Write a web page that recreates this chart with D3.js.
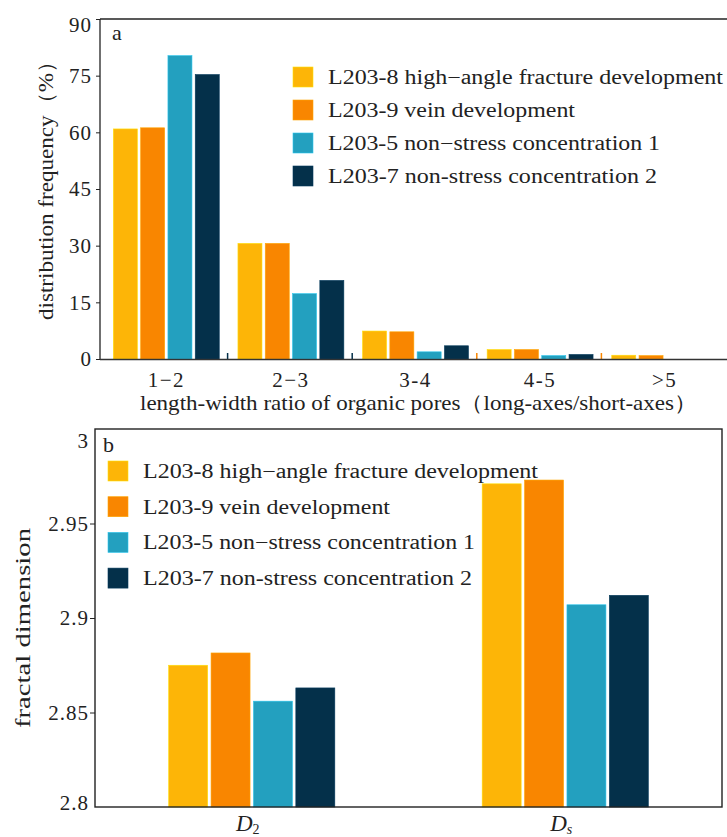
<!DOCTYPE html>
<html><head><meta charset="utf-8">
<script src="https://cdn.jsdelivr.net/npm/d3@7"></script>
<style>body{margin:0;background:#fff}svg{display:block}text{font-family:"Liberation Serif","Times New Roman",serif !important;fill:#222}</style>
</head><body><svg id="c" width="727" height="837"></svg>
<script>
const series = ["L203-8 high\u2212angle fracture development","L203-9 vein development","L203-5 non\u2212stress concentration 1","L203-7 non-stress concentration 2"];
const colors = ["#FDB507","#F98600","#23A0BF","#04304A"];
const catsA = ["1\u22122","2\u22123","3-4","4-5",">5"];
const valsA = [
  [60.9, 30.6, 7.4, 2.5, 1.0],
  [61.2, 30.6, 7.2, 2.5, 0.9],
  [80.3, 17.3, 1.9, 0.9, 0],
  [75.3, 20.8, 3.5, 1.2, 0]
];
const ticksA = [0,15,30,45,60,75,90];
const catsB = ["D2","Ds"];
const valsB = [
  [2.875, 2.971],
  [2.8815, 2.973],
  [2.856, 2.907],
  [2.863, 2.912]
];
const ticksB = [2.8,2.85,2.9,2.95,3];

const svg = d3.select("#c");
const fs = 20;
const legW = [395,247,332,329];

// ---------- Panel a ----------
const ya = d3.scaleLinear().domain([0,90]).range([359,19]);
const xa = d3.scaleBand().domain(catsA).range([104,727]).paddingInner(0.15).paddingOuter(0.075);
const sa = d3.scaleBand().domain(d3.range(4)).range([0,xa.bandwidth()]).paddingInner(0.12);
const ga = svg.append("g");
series.forEach((s,i)=>{
  ga.selectAll(null).data(catsA).join("rect")
    .attr("x",d=>xa(d)+sa(i)).attr("width",sa.bandwidth())
    .attr("y",(d,j)=>ya(valsA[i][j])).attr("height",(d,j)=>ya(0)-ya(valsA[i][j]))
    .attr("fill",colors[i]).attr("stroke",d3.color(colors[i]).brighter(0.6)).attr("stroke-width",0.6)
    .attr("opacity",(d,j)=>valsA[i][j]>0?1:0);
});
const markColors = [colors[3],colors[3],colors[1],colors[1]];
catsA.slice(1).forEach((c,k)=>{
  const xm = xa(c) - xa.step()*xa.paddingInner()/2 - 1;
  ga.append("line").attr("x1",xm).attr("x2",xm).attr("y1",ya(0)).attr("y2",ya(0)-6)
    .attr("stroke",markColors[k]).attr("stroke-width",1.5);
});
ga.append("line").attr("x1",100).attr("x2",100).attr("y1",19).attr("y2",359.5).attr("stroke","#222").attr("stroke-width",1.3);
ga.append("line").attr("x1",100).attr("x2",727).attr("y1",19).attr("y2",19).attr("stroke","#222").attr("stroke-width",1.3);
ga.append("line").attr("x1",100).attr("x2",727).attr("y1",359.5).attr("y2",359.5).attr("stroke","#333").attr("stroke-width",1.6);
const yAxA = ga.append("g").attr("transform","translate(100,0)")
  .call(d3.axisLeft(ya).tickValues(ticksA).tickSize(4).tickSizeOuter(0));
yAxA.attr("font-family",null).attr("font-size",null);
yAxA.select(".domain").remove();
yAxA.selectAll("line").attr("stroke","#222");
yAxA.selectAll("text").style("font-size","21px").style("letter-spacing","1px").attr("x",-8).attr("fill","#222");
yAxA.selectAll(".tick").filter(d=>d===90).select("text").attr("dy","0.6em");
const xAxA = ga.append("g").attr("transform","translate(0,359)")
  .call(d3.axisBottom(xa).tickSize(0));
xAxA.attr("font-family",null).attr("font-size",null);
xAxA.select(".domain").remove();
xAxA.selectAll("text").style("font-size","21px").style("letter-spacing","1.5px").attr("y",13).attr("fill","#222");
ga.append("text").attr("x",112).attr("y",40).style("font-size","22px").text("a");
ga.append("text").attr("transform","translate(53,185) rotate(-90)").attr("text-anchor","middle")
  .style("font-size","21px").attr("textLength",270).attr("lengthAdjust","spacingAndGlyphs").text("distribution frequency\uFF08%\uFF09");
ga.append("text").attr("x",140).attr("y",410).style("font-size","21px")
  .attr("textLength",557).attr("lengthAdjust","spacingAndGlyphs").text("length-width ratio of organic pores\uFF08long-axes/short-axes\uFF09");
series.forEach((s,i)=>{
  const y0 = 67 + i*33;
  ga.append("rect").attr("x",293).attr("y",y0).attr("width",20).attr("height",20).attr("fill",colors[i])
    .attr("stroke",d3.color(colors[i]).brighter(0.6)).attr("stroke-width",0.6);
  ga.append("text").attr("x",328).attr("y",y0+17).style("font-size",fs+"px")
    .attr("textLength",legW[i]).attr("lengthAdjust","spacingAndGlyphs").text(s);
});

// ---------- Panel b ----------
const yb = d3.scaleLinear().domain([2.8,3]).range([807,429]);
const xb = d3.scaleBand().domain(catsB).range([95,722]).paddingInner(0.47).paddingOuter(0.235);
const sb = d3.scaleBand().domain(d3.range(4)).range([0,xb.bandwidth()]).paddingInner(0.08);
const gb = svg.append("g");
series.forEach((s,i)=>{
  gb.selectAll(null).data(catsB).join("rect")
    .attr("x",d=>xb(d)+sb(i)).attr("width",sb.bandwidth())
    .attr("y",(d,j)=>yb(valsB[i][j])).attr("height",(d,j)=>yb(2.8)-yb(valsB[i][j]))
    .attr("fill",colors[i]).attr("stroke",d3.color(colors[i]).brighter(0.6)).attr("stroke-width",0.6);
});
gb.append("rect").attr("x",95).attr("y",429).attr("width",627).attr("height",378)
  .attr("fill","none").attr("stroke","#222").attr("stroke-width",1.4);
const yAxB = gb.append("g").attr("transform","translate(95,0)")
  .call(d3.axisLeft(yb).tickValues(ticksB).tickSize(5).tickSizeOuter(0).tickFormat(d=>String(+d.toFixed(2))));
yAxB.attr("font-family",null).attr("font-size",null);
yAxB.select(".domain").remove();
yAxB.selectAll("line").attr("stroke","#222");
yAxB.selectAll(".tick").filter(d=>d===3||d===2.8).select("line").remove();
yAxB.selectAll("text").style("font-size","21px").style("letter-spacing","1px").attr("x",-6).attr("fill","#222");
yAxB.selectAll(".tick").filter(d=>d===3).select("text").attr("dy","0.9em");
yAxB.selectAll(".tick").filter(d=>d===2.8).select("text").attr("dy","0.1em");
catsB.forEach(c=>{
  const t = gb.append("text").attr("x",xb(c)+xb.bandwidth()/2 - 4).attr("y",831).attr("text-anchor","middle").style("font-size","23px");
  t.append("tspan").attr("font-style","italic").text("D");
  t.append("tspan").style("font-size","14px").attr("dy",3).attr("font-style",c==="Ds"?"italic":"normal").text(c.slice(1));
});
gb.append("text").attr("x",103).attr("y",452).style("font-size","22px").text("b");
gb.append("text").attr("transform","translate(30,628) rotate(-90)").attr("text-anchor","middle")
  .style("font-size","21px").attr("textLength",200).attr("lengthAdjust","spacingAndGlyphs").text("fractal dimension");
series.forEach((s,i)=>{
  const y0 = 461 + i*35.7;
  gb.append("rect").attr("x",108).attr("y",y0).attr("width",20).attr("height",20).attr("fill",colors[i])
    .attr("stroke",d3.color(colors[i]).brighter(0.6)).attr("stroke-width",0.6);
  gb.append("text").attr("x",143).attr("y",y0+17).style("font-size",fs+"px")
    .attr("textLength",legW[i]).attr("lengthAdjust","spacingAndGlyphs").text(s);
});
</script></body></html>
